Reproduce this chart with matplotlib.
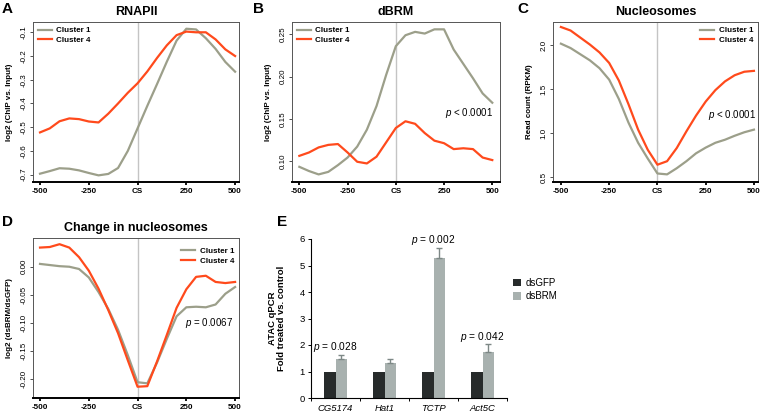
import matplotlib
matplotlib.use("Agg")
import matplotlib.pyplot as plt
from matplotlib.ticker import FormatStrFormatter

plt.rcParams['font.family'] = ['Liberation Sans', 'DejaVu Sans']
plt.rcParams['axes.unicode_minus'] = False
plt.rcParams['mathtext.fontset'] = 'custom'
plt.rcParams['mathtext.it'] = 'Liberation Sans:italic'
plt.rcParams['mathtext.rm'] = 'Liberation Sans'

# positions relative to the cleavage site (CS)
pos = [-500, -450, -400, -350, -300, -250, -200, -150, -100, -50, 0,
       50, 100, 150, 200, 250, 300, 350, 400, 450, 500]

rnapii_c1 = [-0.696, -0.685, -0.673, -0.675, -0.682, -0.693, -0.703, -0.697,
             -0.672, -0.600, -0.505, -0.410, -0.318, -0.224, -0.135, -0.085,
             -0.088, -0.125, -0.170, -0.225, -0.266]
rnapii_c4 = [-0.522, -0.505, -0.475, -0.463, -0.466, -0.476, -0.480, -0.443,
             -0.400, -0.355, -0.315, -0.265, -0.208, -0.155, -0.112, -0.097,
             -0.100, -0.100, -0.130, -0.172, -0.200]

dbrm_c1 = [0.093, 0.088, 0.084, 0.087, 0.095, 0.104, 0.117, 0.137, 0.165,
           0.202, 0.236, 0.249, 0.253, 0.251, 0.256, 0.256, 0.232, 0.215,
           0.198, 0.180, 0.169]
dbrm_c4 = [0.106, 0.110, 0.116, 0.119, 0.120, 0.110, 0.099, 0.097, 0.105,
           0.122, 0.139, 0.147, 0.144, 0.133, 0.124, 0.121, 0.114, 0.115,
           0.114, 0.104, 0.101]

nuc_c1 = [2.02, 1.97, 1.90, 1.83, 1.74, 1.61, 1.39, 1.12, 0.89, 0.71, 0.54,
          0.53, 0.60, 0.68, 0.77, 0.835, 0.89, 0.925, 0.97, 1.01, 1.04]
nuc_c4 = [2.21, 2.17, 2.09, 2.01, 1.92, 1.80, 1.60, 1.33, 1.04, 0.81, 0.64,
          0.68, 0.83, 1.02, 1.20, 1.36, 1.49, 1.59, 1.66, 1.70, 1.71]

chg_c1 = [0.005, 0.003, 0.001, 0.000, -0.004, -0.019, -0.045, -0.075, -0.112,
          -0.157, -0.205, -0.207, -0.170, -0.128, -0.088, -0.072, -0.071,
          -0.072, -0.067, -0.048, -0.036]
chg_c4 = [0.034, 0.035, 0.040, 0.034, 0.017, -0.007, -0.039, -0.077, -0.118,
          -0.166, -0.213, -0.212, -0.168, -0.121, -0.073, -0.040, -0.018,
          -0.016, -0.027, -0.029, -0.027]

x_ticks = [-500, -250, 0, 250, 500]
x_ticklabels = ['-500', '-250', 'CS', '250', '500']

genes = ['CG5174', 'Hat1', 'TCTP', 'Act5C']
dsgfp = [1.0, 1.0, 1.0, 1.0]
dsbrm = [1.47, 1.31, 5.27, 1.73]
dsbrm_err = [0.15, 0.17, 0.40, 0.29]
pvals = ['0.028', None, '0.002', '0.042']

W, H = 764, 420
C1 = '#9c9f8a'
C4 = '#ff4a1c'


def rect(l, t, r, b):
    return [l / W, 1 - b / H, (r - l) / W, (b - t) / H]


def profile_panel(fig, box, c1, c4, xlim, ylim, yticks, yfmt, title,
                  ylabel, legend_loc, legend_anchor, ptext=None, ppos=None):
    ax = fig.add_axes(rect(*box))
    ax.axvline(0, color='#c4c4c4', lw=1.0, zorder=1)
    ax.plot(pos, c1, color=C1, lw=1.6, label='Cluster 1', zorder=3)
    ax.plot(pos, c4, color=C4, lw=1.6, label='Cluster 4', zorder=3)
    ax.set_xlim(*xlim)
    ax.set_ylim(*ylim)
    ax.set_xticks(x_ticks)
    ax.set_xticklabels(x_ticklabels, fontsize=5.8, fontweight='bold')
    ax.set_yticks(yticks)
    ax.yaxis.set_major_formatter(FormatStrFormatter(yfmt))
    for lab in ax.get_yticklabels():
        lab.set_fontsize(5.8)
        lab.set_rotation(90)
        lab.set_va('center')
    ax.tick_params(axis='y', length=2.5, width=0.6, pad=1.5, color='#333333')
    ax.tick_params(axis='x', length=2.5, width=1.3, pad=2, color='black')
    for s in ['top', 'right', 'left']:
        ax.spines[s].set_color('#555555')
        ax.spines[s].set_linewidth(0.7)
    ax.spines['bottom'].set_color('black')
    ax.spines['bottom'].set_linewidth(1.4)
    ax.set_title(title, fontsize=9, fontweight='bold', pad=5)
    ax.set_ylabel(ylabel, fontsize=5.8, fontweight='bold')
    ax.yaxis.set_label_coords(-0.097, 0.5)
    ax.legend(loc=legend_loc, bbox_to_anchor=legend_anchor, frameon=False,
              prop={'weight': 'bold', 'size': 5.8}, handlelength=1.7,
              handletextpad=0.6, labelspacing=0.25, borderaxespad=0.2)
    if ptext:
        ax.text(ppos[0], ppos[1], ptext, transform=ax.transAxes,
                fontsize=7, va='center', ha='left')
    return ax


fig = plt.figure(figsize=(W / 100, H / 100), dpi=100)

profile_panel(fig, (33, 22, 239, 182), rnapii_c1, rnapii_c4, (-536, 520),
              (-0.731, -0.0566), [-0.7, -0.6, -0.5, -0.4, -0.3, -0.2, -0.1],
              '%.1f', 'RNAPII', 'log2 (ChIP vs. Input)', 'upper left',
              (0.0, 1.0))
profile_panel(fig, (292, 22, 500, 182), dbrm_c1, dbrm_c4, (-538, 540),
              (0.075, 0.2647), [0.10, 0.15, 0.20, 0.25], '%.2f', 'dBRM',
              'log2 (ChIP vs. Input)', 'upper left', (0.0, 1.0),
              '$p$ < 0.0001', (0.736, 0.432))
profile_panel(fig, (553, 22, 758, 182), nuc_c1, nuc_c4, (-541, 521),
              (0.443, 2.267), [0.5, 1.0, 1.5, 2.0], '%.1f', 'Nucleosomes',
              'Read count (RPKM)', 'upper right', (1.0, 1.0),
              '$p$ < 0.0001', (0.756, 0.42))
profile_panel(fig, (33, 238, 239, 398), chg_c1, chg_c4, (-536, 520),
              (-0.233, 0.051), [-0.20, -0.15, -0.10, -0.05, 0.00], '%.2f',
              'Change in nucleosomes', 'log2 (dsBRM/dsGFP)', 'upper right',
              (1.0, 0.97), '$p$ = 0.0067', (0.738, 0.469))

# panel E: ATAC qPCR bars
axe = fig.add_axes(rect(311, 239, 507, 398))
idx = list(range(len(genes)))
bw = 0.24
b1 = axe.bar([i - bw / 2 for i in idx], dsgfp, width=bw, color='#272b2b',
             label='dsGFP', zorder=2)
b2 = axe.bar([i + bw / 2 for i in idx], dsbrm, width=bw, color='#a8b1af',
             label='dsBRM', zorder=2)
axe.errorbar([i + bw / 2 for i in idx], dsbrm,
             yerr=[[0] * len(dsbrm), dsbrm_err], fmt='none',
             ecolor='#7d8886', elinewidth=1.0, capsize=2.5, capthick=1.0,
             zorder=3)
for i, p in enumerate(pvals):
    if p:
        axe.text(i, dsbrm[i] + dsbrm_err[i] + 0.3, '$p$ = ' + p,
                 fontsize=7.3, ha='center', va='center')
axe.set_xlim(-0.5, 3.5)
axe.set_ylim(0, 6)
axe.set_yticks(range(7))
axe.set_xticks(idx)
axe.set_xticklabels(genes, fontsize=6.8, style='italic')
axe.set_xticks([i - 0.5 for i in range(len(genes) + 1)], minor=True)
axe.tick_params(axis='x', which='major', length=0, pad=4)
axe.tick_params(axis='x', which='minor', length=2.5, width=0.7)
axe.tick_params(axis='y', length=2.5, width=0.7, labelsize=6.8, pad=2)
for s in ['top', 'right']:
    axe.spines[s].set_visible(False)
for s in ['left', 'bottom']:
    axe.spines[s].set_linewidth(0.8)
axe.set_ylabel('ATAC qPCR\nFold treated vs. control', fontsize=6.8,
               fontweight='bold', linespacing=0.95)
axe.yaxis.set_label_coords(-0.13, 0.5)
fig.legend(handles=[b1, b2], labels=['dsGFP', 'dsBRM'], loc='upper left',
           bbox_to_anchor=(509 / W, 1 - 274 / H), frameon=False, fontsize=7,
           handlelength=0.8, handleheight=0.8, handletextpad=0.5,
           labelspacing=0.35, borderaxespad=0)

# panel letters
for letter, (x, y) in {'A': (2, 9), 'B': (253, 9), 'C': (517, 9),
                       'D': (2, 222), 'E': (277, 222)}.items():
    fig.text(x / W, 1 - y / H, letter, fontsize=11, fontweight='bold',
             ha='left', va='center')

fig.savefig('out.png', dpi=100)
